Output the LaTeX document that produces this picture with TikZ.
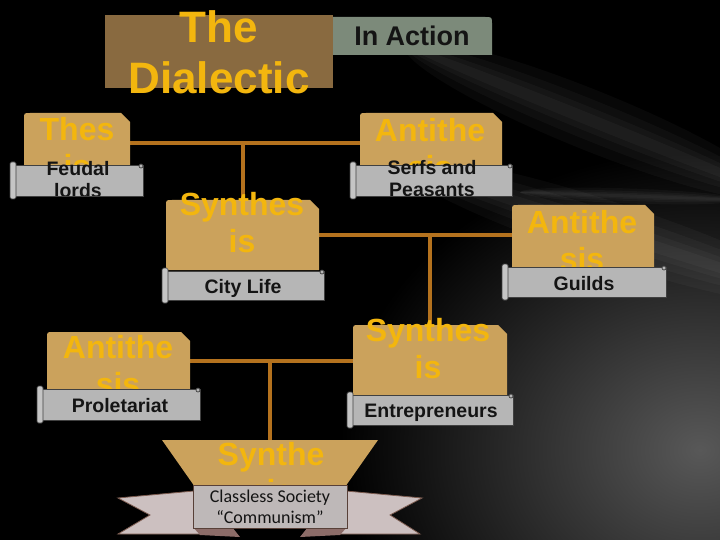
\documentclass[tikz,border=0pt]{standalone}
\usepackage{fontspec}
\setmainfont{Liberation Sans}
\newfontfamily\ribbonfont{Carlito}
\usetikzlibrary{fit}
\definecolor{tanfill}{RGB}{203,162,92}
\definecolor{darktan}{RGB}{137,106,64}
\definecolor{goldtxt}{RGB}{243,182,14}
\definecolor{labelgray}{RGB}{182,182,182}
\definecolor{labink}{RGB}{20,20,20}
\definecolor{actiongray}{RGB}{124,138,122}
\definecolor{linkcol}{RGB}{180,114,30}
\definecolor{tailcol}{RGB}{204,192,192}
\definecolor{tailedge}{RGB}{125,92,80}
\definecolor{bandcol}{RGB}{190,184,184}
\definecolor{folddark}{RGB}{140,108,104}
\definecolor{bgglow}{RGB}{88,88,88}
\tikzset{
  area/.style={inner sep=0pt, outer sep=0pt},
  goldtext/.style={font=\bfseries\fontsize{32}{37}\selectfont, text=goldtxt, align=center, inner sep=0pt, anchor=north},
  labtext/.style={font=\bfseries\fontsize{19.5}{22.5}\selectfont, text=labink, align=center, inner sep=0pt},
  link/.style={draw=linkcol, line width=4pt},
  streak/.style={fill=white, opacity=.03},
  scrolledge/.style={draw=black!75, line width=.7pt},
}
\newcommand\tanshape[1]{%
  \fill[tanfill] (#1.south west) -- ([yshift=-6pt]#1.north west) .. controls (#1.north west) .. ([xshift=6pt]#1.north west)
    -- ([xshift=-9pt]#1.north east) -- ([yshift=-9pt]#1.north east) -- (#1.south east) -- cycle;}
\newcommand\scrollbox[1]{%
  \fill[labelgray, scrolledge] (#1.south west) rectangle (#1.north east);
  \filldraw[fill=labelgray!80!white, scrolledge, rounded corners=1.5pt] ([xshift=-5pt,yshift=-3pt]#1.south west) rectangle ([xshift=1pt,yshift=3pt]#1.north west);
  \filldraw[fill=labelgray, scrolledge] ([xshift=-2pt,yshift=-1pt]#1.north east) circle (2pt);}
\begin{document}
\begin{tikzpicture}[x=1pt,y=-1pt]
\useasboundingbox (0,0) rectangle (720,540);
% background
\fill[black] (0,0) rectangle (720,540);
\shade[inner color=bgglow, outer color=black] (700,450) ellipse (360 and 300);
\foreach \w in {30,20,12,6}{
  \fill[streak, rotate around={-22:(590,120)}] (590,120) ellipse (200 and \w);
  \fill[streak, rotate around={-18:(610,232)}] (610,232) ellipse (220 and \w);
  \fill[streak, rotate around={-2:(630,196)}] (630,196) ellipse (110 and \w/4);
}
% areas
\node[area, fit={(105,15) (333,88)}] (title) {};
\node[area, fit={(333,17) (492,55)}] (action) {};
\node[area, fit={(24,113) (130,165)}] (thesis) {};
\node[area, fit={(15,165) (143,196)}] (thesisL) {};
\node[area, fit={(360,113) (502,165)}] (anti1) {};
\node[area, fit={(355,165) (512,196)}] (anti1L) {};
\node[area, fit={(166,200) (319,270)}] (syn1) {};
\node[area, fit={(167,271) (324,300)}] (syn1L) {};
\node[area, fit={(512,205) (654,268)}] (anti2) {};
\node[area, fit={(507,267) (666,297)}] (anti2L) {};
\node[area, fit={(47,332) (190,389)}] (anti3) {};
\node[area, fit={(42,389) (200,420)}] (anti3L) {};
\node[area, fit={(353,325) (507,395)}] (syn2) {};
\node[area, fit={(352,395) (513,425)}] (syn2L) {};
\node[area, fit={(162,440) (378,487)}] (final) {};
\node[area, fit={(193,485) (347,528)}] (band) {};
% connectors
\coordinate (j1) at ([yshift=-4pt]thesis.east);
\draw[link] (j1) -- (j1 -| anti1.west);
\draw[link] (syn1.north) -- (syn1.north |- j1);
\draw[link] (syn1.east) -- (syn1.east -| anti2.west);
\draw[link] (syn2.north) -- (syn2.north |- syn1.east);
\draw[link] (anti3.east) -- (anti3.east -| syn2.west);
\draw[link] (final.north) -- (final.north |- anti3.east);
% title
\fill[darktan] (title.south west) rectangle (title.north east);
\node[goldtext, font=\bfseries\fontsize{44}{51}\selectfont] (titleT) at (219,10) {The\\Dialectic};
\fill[actiongray] (action.south west) -- (action.north west) -- ([xshift=-7pt]action.north east) .. controls (action.north east) .. ([yshift=-7pt]action.north east) -- (action.south east) -- cycle;
\node[font=\bfseries\fontsize{27}{30}\selectfont, text=labink, inner sep=0pt] (actionT) at (412,36) {In Action};
% tan boxes
\tanshape{thesis}
\tanshape{anti1}
\tanshape{syn1}
\tanshape{anti2}
\tanshape{anti3}
\tanshape{syn2}
\node[goldtext] (thesisT) at (77,117) {Thes\\is};
\node[goldtext] (anti1T) at (430,118) {Antithe\\sis};
\node[goldtext] (syn1T) at (242,192) {Synthes\\is};
\node[goldtext] (anti2T) at (582,210) {Antithe\\sis};
\node[goldtext] (anti3T) at (118,335) {Antithe\\sis};
\node[goldtext] (syn2T) at (428,318) {Synthes\\is};
% labels
\scrollbox{thesisL}
\scrollbox{anti1L}
\scrollbox{syn1L}
\scrollbox{anti2L}
\scrollbox{anti3L}
\scrollbox{syn2L}
\begin{scope}
  \clip ([yshift=12pt]thesisL.north west) rectangle (thesisL.south east);
  \node[labtext, anchor=north] (thesisLT) at (78,161) {Feudal\\lords};
\end{scope}
\begin{scope}
  \clip ([yshift=12pt]anti1L.north west) rectangle (anti1L.south east);
  \node[labtext, anchor=north] (anti1LT) at (432,160) {Serfs and\\Peasants};
\end{scope}
\node[labtext, anchor=base] (syn1LT) at (243,293) {City Life};
\node[labtext, anchor=base] (anti2LT) at (584,290) {Guilds};
\node[labtext, anchor=base] (anti3LT) at (120,412) {Proletariat};
\node[labtext, anchor=base] (syn2LT) at (431,417) {Entrepreneurs};
% final ribbon
\fill[tanfill] (final.north west) -- (final.north east) -- ([xshift=-33pt]final.south east) -- ([xshift=33pt]final.south west) -- cycle;
\node[goldtext] (finalT) at (271,442) {Synthe\\sis};
\filldraw[fill=tailcol, draw=tailedge, line width=.8pt] (118,498) -- (205,490) -- (205,534) -- (118,534) -- (150,515) -- cycle;
\filldraw[fill=tailcol, draw=tailedge, line width=.8pt] (422,498) -- (335,490) -- (335,534) -- (420,534) -- (390,515) -- cycle;
\fill[folddark] (193,527) -- (232,527) -- (240,537) -- (200,535) -- cycle;
\fill[folddark] (347,527) -- (308,527) -- (300,537) -- (340,535) -- cycle;
\filldraw[fill=bandcol, draw=tailedge!70!black, line width=.8pt] (band.south west) rectangle (band.north east);
\node[font=\ribbonfont\fontsize{18}{21}\selectfont, text=labink, align=center, inner sep=0pt] (bandT) at (band.center) {Classless Society\\“Communism”};
\end{tikzpicture}
\end{document}
